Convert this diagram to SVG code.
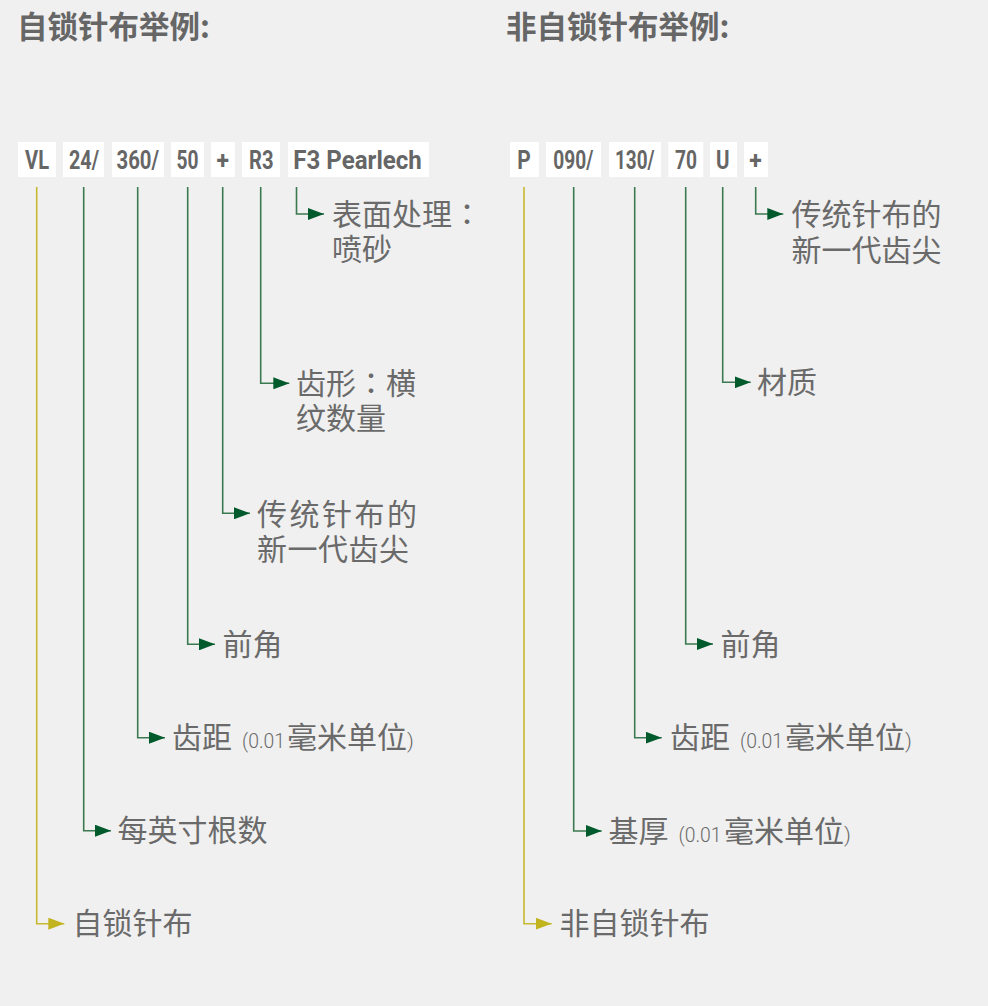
<svg xmlns="http://www.w3.org/2000/svg" width="988" height="1006" viewBox="0 0 988 1006">
<style>
.bg{fill:#f0f0f0}
.title{font-family:"Noto Sans CJK SC","Noto Sans",sans-serif;font-weight:700;font-size:30.5px;fill:#666}
.box{fill:#ffffff}
.code{font-family:Roboto,"Liberation Sans",sans-serif;font-weight:700;font-size:25px;fill:#666}
.lbl{font-family:"Noto Sans CJK SC","Noto Sans",sans-serif;font-size:30px;fill:#6a6a6a}
.sm{font-family:Roboto,"Liberation Sans",sans-serif;font-weight:300;font-size:21px}
.col{font-family:"Noto Sans CJK TC","Noto Sans CJK JP",sans-serif}
.g{fill:none;stroke:#3b7a50;stroke-width:1.6}
.y{fill:none;stroke:#c6b930;stroke-width:1.6}
</style>
<defs>
<marker id="ag" markerUnits="userSpaceOnUse" markerWidth="16" markerHeight="12" refX="16" refY="6" orient="auto"><path d="M0,0 L16,6 L0,12 Z" fill="#005a2b"/></marker>
<marker id="ay" markerUnits="userSpaceOnUse" markerWidth="16" markerHeight="12" refX="16" refY="6" orient="auto"><path d="M0,0 L16,6 L0,12 Z" fill="#c2b41f"/></marker>
</defs>
<rect class="bg" x="0" y="0" width="988" height="1006"/>
<text class="title" x="17" y="38">自锁针布举例:</text>
<text class="title" x="506" y="38">非自锁针布举例:</text>

<g id="left-codes">
<g id="n-VL"><rect class="box" x="18" y="142" width="38" height="35"/><text class="code" x="25" y="168.5" textLength="24" lengthAdjust="spacingAndGlyphs">VL</text></g>
<g id="n-24"><rect class="box" x="63" y="142" width="41" height="35"/><text class="code" x="69" y="168.5" textLength="30" lengthAdjust="spacingAndGlyphs">24/</text></g>
<g id="n-360"><rect class="box" x="112" y="142" width="52" height="35"/><text class="code" x="116.5" y="168.5" textLength="42.5" lengthAdjust="spacingAndGlyphs">360/</text></g>
<g id="n-50"><rect class="box" x="171" y="142" width="33" height="35"/><text class="code" x="176.5" y="168.5" textLength="22" lengthAdjust="spacingAndGlyphs">50</text></g>
<g id="n-plus"><rect class="box" x="211" y="142" width="24" height="35"/><text class="code" x="216.5" y="168.5" textLength="12.5" lengthAdjust="spacingAndGlyphs">+</text></g>
<g id="n-R3"><rect class="box" x="242" y="142" width="38" height="35"/><text class="code" x="249" y="168.5" textLength="24.5" lengthAdjust="spacingAndGlyphs">R3</text></g>
<g id="n-F3"><rect class="box" x="288" y="142" width="141" height="35"/><text class="code" x="293.3" y="168.5" textLength="128.5" lengthAdjust="spacingAndGlyphs">F3 Pearlech</text></g>
</g>

<g id="right-codes">
<g id="n-P"><rect class="box" x="510" y="142" width="29" height="35"/><text class="code" x="517.3" y="168.5" textLength="13.5" lengthAdjust="spacingAndGlyphs">P</text></g>
<g id="n-090"><rect class="box" x="546" y="142" width="55" height="35"/><text class="code" x="553.3" y="168.5" textLength="40" lengthAdjust="spacingAndGlyphs">090/</text></g>
<g id="n-130"><rect class="box" x="609" y="142" width="52" height="35"/><text class="code" x="615" y="168.5" textLength="39.5" lengthAdjust="spacingAndGlyphs">130/</text></g>
<g id="n-70"><rect class="box" x="668.3" y="142" width="35" height="35"/><text class="code" x="675" y="168.5" textLength="22" lengthAdjust="spacingAndGlyphs">70</text></g>
<g id="n-U"><rect class="box" x="710" y="142" width="27" height="35"/><text class="code" x="716" y="168.5" textLength="13.5" lengthAdjust="spacingAndGlyphs">U</text></g>
<g id="n-plus2"><rect class="box" x="744" y="142" width="24" height="35"/><text class="code" x="749.3" y="168.5" textLength="12.5" lengthAdjust="spacingAndGlyphs">+</text></g>
</g>

<g id="connectors">
<path class="y" d="M36.7,187 V923.7 H64.3" marker-end="url(#ay)"/>
<path class="g" d="M83.7,187 V830.7 H111" marker-end="url(#ag)"/>
<path class="g" d="M137.7,187 V737.7 H165" marker-end="url(#ag)"/>
<path class="g" d="M187.7,187 V644.3 H215" marker-end="url(#ag)"/>
<path class="g" d="M222.7,187 V513.3 H250" marker-end="url(#ag)"/>
<path class="g" d="M260.7,187 V383.3 H289.3" marker-end="url(#ag)"/>
<path class="g" d="M296.5,187 V214 H324" marker-end="url(#ag)"/>
<path class="y" d="M524,187 V923.7 H551.7" marker-end="url(#ay)"/>
<path class="g" d="M573.7,187 V831 H601.7" marker-end="url(#ag)"/>
<path class="g" d="M634.7,187 V737.7 H661.7" marker-end="url(#ag)"/>
<path class="g" d="M685.7,187 V644 H713" marker-end="url(#ag)"/>
<path class="g" d="M722.7,187 V382.3 H750.7" marker-end="url(#ag)"/>
<path class="g" d="M755.7,187 V214 H783.3" marker-end="url(#ag)"/>
</g>

<g id="left-labels">
<g id="l-F3"><text class="lbl"><tspan x="332" y="224.5">表面处理<tspan class="col">：</tspan></tspan><tspan x="332" y="259.5">喷砂</tspan></text></g>
<g id="l-R3"><text class="lbl"><tspan x="296" y="394">齿形<tspan class="col">：</tspan>横</tspan><tspan x="296" y="429">纹数量</tspan></text></g>
<g id="l-plus"><text class="lbl"><tspan x="257" y="524.5" letter-spacing="2.5">传统针布的</tspan><tspan x="257" y="559.5" letter-spacing="0.5">新一代齿尖</tspan></text></g>
<g id="l-50"><text class="lbl" x="222.5" y="655">前角</text></g>
<g id="l-360"><text class="lbl" y="748"><tspan x="172">齿距</tspan><tspan class="sm" x="242" textLength="43" lengthAdjust="spacingAndGlyphs">(0.01</tspan><tspan x="287">毫米单位</tspan><tspan class="sm" x="407">)</tspan></text></g>
<g id="l-24"><text class="lbl" x="117.5" y="841">每英寸根数</text></g>
<g id="l-VL"><text class="lbl" x="72.5" y="934">自锁针布</text></g>
</g>

<g id="right-labels">
<g id="r-plus"><text class="lbl"><tspan x="791.5" y="224.5">传统针布的</tspan><tspan x="791.5" y="260.5">新一代齿尖</tspan></text></g>
<g id="r-U"><text class="lbl" x="757" y="393">材质</text></g>
<g id="r-70"><text class="lbl" x="720.5" y="654.5">前角</text></g>
<g id="r-130"><text class="lbl" y="748"><tspan x="670">齿距</tspan><tspan class="sm" x="740" textLength="43" lengthAdjust="spacingAndGlyphs">(0.01</tspan><tspan x="785">毫米单位</tspan><tspan class="sm" x="905">)</tspan></text></g>
<g id="r-090"><text class="lbl" y="841.5"><tspan x="608.5">基厚</tspan><tspan class="sm" x="678.5" textLength="43" lengthAdjust="spacingAndGlyphs">(0.01</tspan><tspan x="724">毫米单位</tspan><tspan class="sm" x="844">)</tspan></text></g>
<g id="r-P"><text class="lbl" x="559.5" y="934">非自锁针布</text></g>
</g>
</svg>
